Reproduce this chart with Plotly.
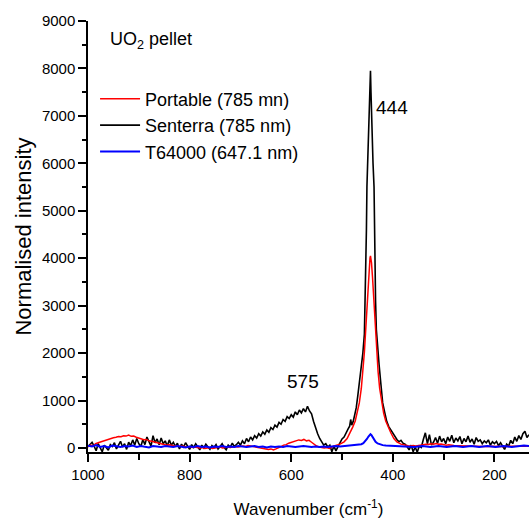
import plotly.graph_objects as go

# ---------------- data ----------------
# Senterra (785 nm) - black
black_wn = [
    1000, 996, 992, 988, 984, 980, 976, 972, 968, 964, 960, 956, 952, 948, 944, 940, 936, 932, 928, 924,
    920, 916, 912, 908, 904, 900, 896, 892, 888, 884, 880, 876, 872, 868, 864, 860, 856, 852, 848, 844,
    840, 836, 832, 828, 824, 820, 816, 812, 808, 804, 800, 796, 792, 788, 784, 780, 776, 772, 768, 764,
    760, 756, 752, 748, 744, 740, 736, 732, 728, 724, 720, 716, 712, 708, 704,
    700, 696, 692, 688, 684, 680, 676, 672, 668, 664, 660, 656, 652, 648, 644, 640, 636, 632, 628, 624,
    620, 616, 612, 608, 604, 600, 596, 592, 588, 584, 580, 576, 572, 568, 564, 560, 556, 552, 548, 544,
    540, 536, 532,
    528, 524, 520, 516, 512, 508, 504, 500, 496, 492, 488, 485, 483, 481, 478, 475, 472, 469, 466, 462,
    459, 456, 454, 453, 452, 451, 449, 447, 445, 444, 443, 441, 439, 437, 436, 435, 434, 432.5, 430, 427,
    424, 420, 416, 412, 408, 404, 400, 396, 392, 388, 384, 380,
    376, 372, 368, 364, 360, 356, 352, 348, 344, 340, 336, 332, 328, 324, 320, 316, 312, 308, 304, 300,
    296, 292, 288, 284, 280, 276, 272, 268, 264, 260, 256, 252, 248, 244, 240, 236, 232, 228, 224, 220,
    216, 212, 208, 204, 200, 196, 192, 188, 184, 180, 176, 172, 168, 164, 160, 156, 152, 148, 144, 140,
    136, 132,
]
black_int = [
    30, 80, 120, 40, -60, 90, 20, -80, 60, 10, -50, 70, 30, 110, -20, 60, 140, 20, 90, -30,
    120, 50, 170, 60, 200, 90, 30, 180, 70, 230, 120, 40, 260, 110, 190, 70, 210, 90, 150, 40,
    170, 60, 120, 30, 100, -20, 80, 20, 110, 40, -30, 70, 10, 90, 30, -40, 60, 0, 80, 20,
    -30, 50, 10, 70, -20, 30, 90, 10, -40, 60, 20, 100, 30, 70, 120,
    60, 150, 90, 200, 130, 230, 170, 260, 210, 300, 250, 340, 290, 380, 330, 430, 390, 480, 440, 540,
    500, 600, 560, 660, 620, 700, 650, 760, 700, 800, 740, 830, 760, 880, 780, 720, 560, 420, 300, 200,
    120, 60, 90,
    20, 60, -80, 40, -60, 30, 120, 190, 230, 330, 400, 460, 600, 480, 560, 700, 850, 1100, 1350, 1660,
    2000, 2400, 3300, 3900, 4600, 5500, 6200, 7000, 7700, 7950, 7500, 6600, 6000, 5500, 4500, 3700, 3100, 2500, 2100, 1750,
    1400, 950, 750, 560, 450, 380, 300, 230, 180, 130, 160, 100,
    80, 30, -40, 60, -80, 20, -90, 40, 10, 180, 320, 90, 280, 60, 120, 220, 100, 250, 130, 200,
    90, 230, 140, 270, 110, 210, 150, 240, 90, 200, 130, 250, 120, 190, 80, 220, 140, 170, 90, 150,
    110, 170, 60, 130, 90, 140, 50, 110, 30, -30, 80, 40, 160, 90, 230, 140, 260, 180, 300, 350,
    220, 280,
]

# Portable (785 mn) - red
red_wn = [
    1000, 995, 990, 985, 980, 975, 970, 965, 960, 955, 950, 945, 940, 935, 930, 925, 920, 915, 910, 905,
    900, 895, 890, 885, 880, 875, 870, 865, 860, 855, 850, 845, 840, 835, 830, 825, 820, 815, 810, 805,
    800, 795, 790, 785, 780, 775, 770, 765, 760, 755, 750, 745, 740, 735, 730, 725, 720, 715, 710, 705,
    700, 695, 690, 685, 680, 675, 670, 665, 660, 655, 650, 645, 640, 635, 630, 625, 620, 615, 610, 605,
    600, 595, 590, 585, 580, 575, 570, 565, 560, 555, 550, 545, 540, 535, 530, 525, 520,
    514, 504, 496, 490, 484, 479, 474, 470, 466, 462, 459, 456, 454, 452, 450, 448, 446, 445, 444, 443,
    442, 440, 438, 436, 434, 432, 429, 426, 422, 418, 414, 409, 404, 398, 392, 384, 374,
    370, 365, 360, 355, 350, 345, 340, 335, 330, 325, 320, 315, 310, 305, 300, 295, 290, 285, 280, 270,
    260, 250, 240, 230, 220, 210, 200, 190, 180, 170, 160, 150, 140, 132,
]
red_int = [
    20, 60, 40, 90, 110, 130, 150, 170, 190, 200, 215, 225, 240, 235, 255, 250, 270, 245, 250, 225,
    210, 195, 175, 180, 150, 140, 125, 110, 95, 80, 75, 60, 65, 50, 40, 45, 30, 40, 30, 20,
    30, 10, 20, 10, 0, 10, -10, 0, 10, -10, 0, 10, 20, 0, 10, 20, 10, 20, 30, 20,
    30, 40, 30, 50, 40, 30, 20, 10, 0, -10, -20, -30, -20, -40, -20, 0, 30, 60, 70, 100,
    120, 140, 150, 170, 160, 180, 150, 160, 120, 80, 40, 20, 10, 0, 10, -10, 20,
    50, 80, 130, 200, 320, 440, 570, 730, 950, 1260, 1600, 2020, 2380, 2780, 3200, 3600, 3900, 4000, 4050, 4000,
    3900, 3600, 3200, 2780, 2380, 2020, 1600, 1260, 950, 730, 570, 440, 320, 200, 130, 80, 50,
    45, 40, 50, 40, 55, 60, 70, 80, 75, 90, 80, 95, 80, 85, 70, 60, 70, 55, 50, 45,
    40, 45, 35, 40, 30, 35, 30, 25, 30, 35, 30, 40, 35, 40,
]

# T64000 (647.1 nm) - blue
blue_wn = [
    1000, 992, 984, 976, 968, 960, 952, 944, 936, 928, 920, 912, 904, 896, 888, 880, 872, 864, 856, 848,
    840, 832, 824, 816, 808, 800, 792, 784, 776, 768, 760, 752, 744, 736, 728, 720, 712, 704, 696, 688,
    680, 672, 664, 656, 648, 640, 632, 624, 616, 608, 600, 592, 584, 576, 568, 560, 552, 544, 536, 528,
    520, 512, 504, 496, 488, 480, 474, 468, 462, 458, 454, 451, 448, 446, 444, 442, 440, 437, 434, 430,
    426, 420, 414, 406, 398, 390, 382, 374, 366, 358, 350, 342, 334, 326, 318, 310, 302, 294, 286, 278,
    270, 262, 254, 246, 238, 230, 222, 214, 206, 198, 190, 182, 174, 166, 158, 150, 142, 132,
]
blue_int = [
    50, 30, 60, 20, 40, 10, 50, 30, 20, 40, 30, 50, 20, 40, 30, 10, 40, 30, 20, 40,
    30, 20, 40, 30, 10, 30, 20, 40, 20, 30, 10, 30, 20, 40, 20, 30, 20, 40, 30, 20,
    30, 40, 20, 30, 10, 30, 20, 30, 20, 40, 30, 20, 30, 40, 30, 20, 30, 20, 30, 20,
    30, 40, 30, 40, 45, 50, 55, 65, 80, 100, 140, 190, 240, 275, 290, 270, 230, 180, 130, 95,
    75, 60, 50, 45, 40, 35, 30, 40, 30, 20, 30, 40, 30, 20, 30, 40, 30, 20, 30, 40,
    30, 20, 30, 40, 30, 20, 30, 40, 30, 20, 30, 40, 30, 20, 30, 40, 50, 40,
]

x_ticks = [1000, 800, 600, 400, 200]
y_ticks = [0, 1000, 2000, 3000, 4000, 5000, 6000, 7000, 8000, 9000]

FONT = "Liberation Sans, Arial, sans-serif"

fig = go.Figure()
fig.add_trace(go.Scatter(x=black_wn, y=black_int, mode="lines", name="Senterra (785 nm)",
                         line=dict(color="black", width=1.6), legendrank=2))
fig.add_trace(go.Scatter(x=red_wn, y=red_int, mode="lines", name="Portable (785 mn)",
                         line=dict(color="#ff0000", width=1.5), legendrank=1))
fig.add_trace(go.Scatter(x=blue_wn, y=blue_int, mode="lines", name="T64000 (647.1 nm)",
                         line=dict(color="#0000ff", width=2), legendrank=3))

fig.update_layout(
    width=529, height=525,
    margin=dict(l=88, r=0, t=21, b=73),
    paper_bgcolor="white", plot_bgcolor="white",
    font=dict(family=FONT, color="black", size=15),
    showlegend=True,
    legend=dict(x=0.016, y=0.862, xanchor="left", yanchor="top",
                bgcolor="rgba(0,0,0,0)", borderwidth=0,
                font=dict(family=FONT, size=18, color="black"), itemwidth=40),
    annotations=[
        dict(x=960, y=8590, xref="x", yref="y", text="UO<sub>2</sub> pellet", showarrow=False,
             xanchor="left", yanchor="middle", font=dict(family=FONT, size=18)),
        dict(x=401, y=7170, xref="x", yref="y", text="444", showarrow=False,
             xanchor="center", yanchor="middle", font=dict(family=FONT, size=19)),
        dict(x=576, y=1410, xref="x", yref="y", text="575", showarrow=False,
             xanchor="center", yanchor="middle", font=dict(family=FONT, size=19)),
    ],
)

fig.update_xaxes(
    range=[1000, 132], autorange=False,
    tickvals=x_ticks, ticktext=[str(v) for v in x_ticks],
    ticks="outside", ticklen=8, tickwidth=1.5, tickcolor="black",
    minor=dict(ticks="outside", ticklen=6, tickwidth=1.5, tickcolor="black", dtick=100, tick0=0),
    showline=True, linewidth=1.5, linecolor="black", mirror=False,
    showgrid=False, zeroline=False,
    tickfont=dict(family=FONT, size=15),
    title=dict(text="Wavenumber (cm<sup>-1</sup>)", font=dict(family=FONT, size=17), standoff=21),
)
fig.update_yaxes(
    range=[-85, 9000], autorange=False,
    tickvals=y_ticks, ticktext=[str(v) for v in y_ticks],
    ticks="outside", ticklen=8, tickwidth=1.5, tickcolor="black",
    minor=dict(ticks="outside", ticklen=4, tickwidth=1.5, tickcolor="black", dtick=500, tick0=0),
    showline=True, linewidth=1.5, linecolor="black", mirror=False,
    showgrid=False, zeroline=False,
    tickfont=dict(family=FONT, size=15),
    title=dict(text="Normalised intensity", font=dict(family=FONT, size=22), standoff=4),
)

fig.write_html("out.html")
